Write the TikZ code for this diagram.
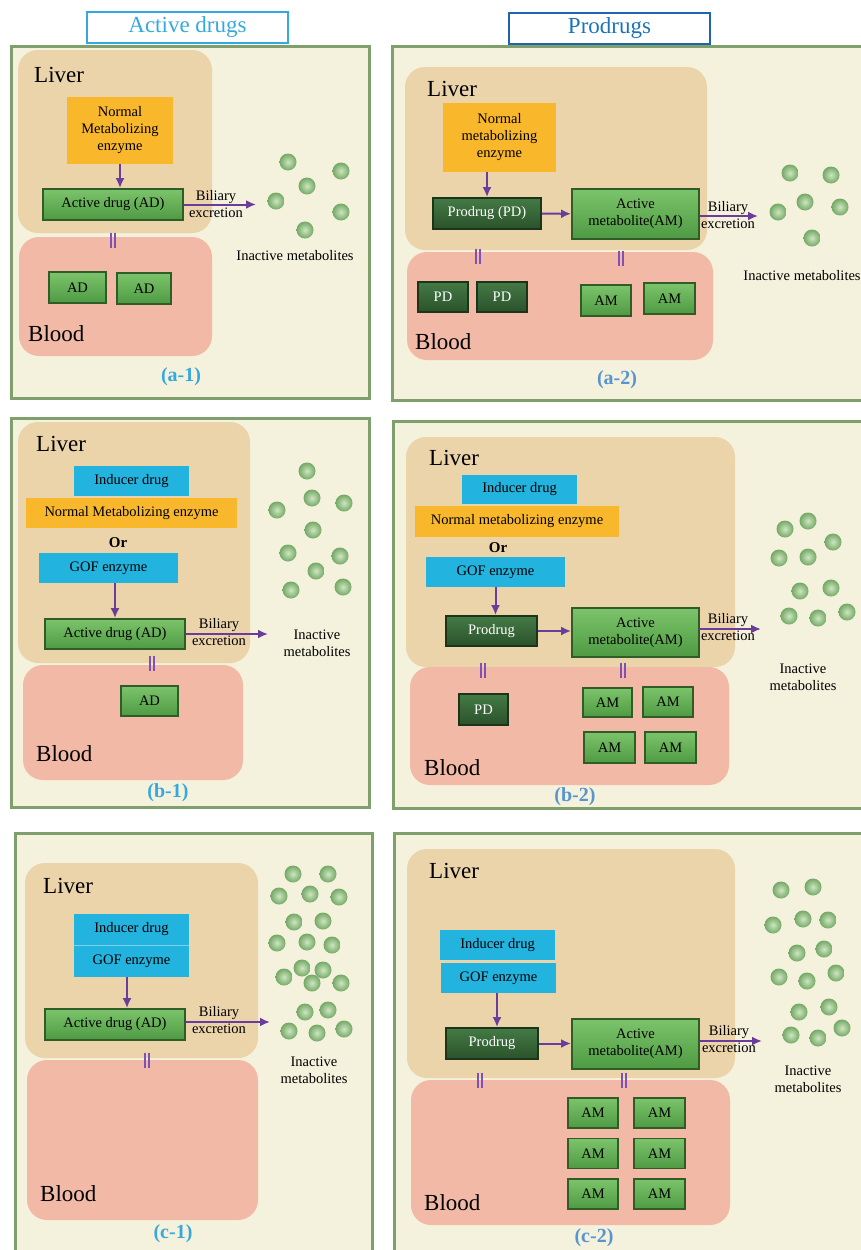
\documentclass[tikz,border=0pt]{standalone}
\usepackage{fontspec}
\setmainfont{Liberation Serif}
\usetikzlibrary{arrows.meta}
\definecolor{cream}{HTML}{F4F2DC}
\definecolor{framegreen}{HTML}{7FA06C}
\definecolor{livertan}{HTML}{EBD3AA}
\definecolor{bloodpink}{HTML}{F2B9A6}
\definecolor{enzorange}{HTML}{F9B82B}
\definecolor{cyanblue}{HTML}{22B3DE}
\definecolor{arrowpurple}{HTML}{6A3D9A}
\definecolor{barpurple}{HTML}{7E52B4}
\definecolor{ballin}{HTML}{CDE6C1}
\definecolor{ballout}{HTML}{74A865}
\definecolor{acttop}{HTML}{7CC46C}
\definecolor{actbot}{HTML}{4E9A42}
\definecolor{actrim}{HTML}{2F5C27}
\definecolor{protop}{HTML}{447A45}
\definecolor{probot}{HTML}{2B522B}
\definecolor{prorim}{HTML}{1B351B}
\definecolor{leftblue}{HTML}{36A8E0}
\definecolor{rightblue}{HTML}{1F64AE}
\definecolor{caseblue}{HTML}{5894CE}
\begin{document}
\begin{tikzpicture}[
    x={(1pt,0)}, y={(0,-1pt)},
    panel/.style={fill=cream, draw=framegreen, line width=3pt},
    liver/.style={fill=livertan, rounded corners=20pt},
    blood/.style={fill=bloodpink, rounded corners=20pt},
    organ/.style={font=\fontsize{23}{26}\selectfont, anchor=west, inner sep=0pt},
    smalltext/.style={font=\fontsize{14.5}{17}\selectfont, inner sep=0pt, align=center},
    enzbox/.style={smalltext, fill=enzorange},
    cyanbox/.style={smalltext, fill=cyanblue},
    actbox/.style={smalltext, top color=acttop, bottom color=actbot, draw=actrim, line width=1.8pt},
    probox/.style={smalltext, top color=protop, bottom color=probot, draw=prorim, line width=1.8pt, text=white},
    flow/.style={draw=arrowpurple, line width=2pt, -{Latex[length=10pt,width=9pt]}},
    eqsign/.style={minimum width=7pt, minimum height=15pt, inner sep=0pt,
      path picture={
        \draw[barpurple, line width=2pt] ([xshift=-2.2pt]path picture bounding box.north) -- ([xshift=-2.2pt]path picture bounding box.south);
        \draw[barpurple, line width=2pt] ([xshift=2.2pt]path picture bounding box.north) -- ([xshift=2.2pt]path picture bounding box.south);}},
    caseL/.style={text=leftblue, font=\fontsize{20}{22}\selectfont\bfseries},
    caseR/.style={text=caseblue, font=\fontsize{20}{22}\selectfont\bfseries},
    metab/.style={inner color=ballin, outer color=ballout},
    ]
\useasboundingbox (0,0) rectangle (860,1250);
% headers
\node[draw=leftblue, line width=1.3pt, text=leftblue, font=\fontsize{23}{26}\selectfont, minimum width=201pt, minimum height=31pt] (hdA) at (187.5,27.5) {Active drugs};
\node[draw=rightblue, line width=1.3pt, text=rightblue!90!cyan, font=\fontsize{23}{26}\selectfont, minimum width=201pt, minimum height=31pt] (hdP) at (609.5,28.5) {Prodrugs};
% panels
\draw[panel] (11,46) rectangle (369,398);
\draw[panel] (392,46) rectangle (880,400);
\draw[panel] (11,418) rectangle (369,807);
\draw[panel] (393,421) rectangle (880,808);
\draw[panel] (15,833) rectangle (372,1270);
\draw[panel] (394,833) rectangle (880,1270);
\fill[liver] (18,50) rectangle (212,233);
\fill[blood] (19,237) rectangle (212,356);
\fill[liver] (405,67) rectangle (707,250);
\fill[blood] (407,252) rectangle (713,360);
\fill[liver] (18,422) rectangle (250,663);
\fill[blood] (23,665) rectangle (243,780);
\fill[liver] (406,437) rectangle (735,667);
\fill[blood] (410,667) rectangle (729,785);
\fill[liver] (25,863) rectangle (258,1058);
\fill[blood] (27,1060) rectangle (258,1220);
\fill[liver] (407,849) rectangle (735,1078);
\fill[blood] (411,1080) rectangle (730,1225);

% (a-1)
\node[organ] (liv1) at (34,75) {Liver};
\node[organ] (blo1) at (28,334) {Blood};
\node[enzbox, minimum width=106pt, minimum height=67pt] (enz1) at (120,130.5) {Normal\\Metabolizing\\enzyme};
\node[actbox, minimum width=140pt, minimum height=31pt] (ad1) at (113,204.5) {Active drug (AD)};
\node[actbox, minimum width=57pt, minimum height=31pt] (ad1a) at (77.5,287.5) {AD};
\node[actbox, minimum width=54pt, minimum height=31pt] (ad1b) at (144,288.5) {AD};
\node[eqsign] (eq1) at (113,240) {};
\node[smalltext] (bil1) at (216,204.5) {Biliary\\excretion};
\coordinate (out1) at (256,204.5);
\node[smalltext] (ina1) at (295,256) {Inactive metabolites};
\node[caseL] (lab1) at (181,377) {(a-1)};
\draw[flow] (enz1.south) -- (enz1.south |- ad1.north);
\draw[flow] (ad1) -- (out1);
\foreach \x/\y in {288/162, 341/171, 307/186, 276/201, 341/212, 305/230}
  \shade[metab] (\x,\y) circle (8.5pt);

% (a-2)
\node[organ] (liv2) at (427,89) {Liver};
\node[organ] (blo2) at (415,342) {Blood};
\node[enzbox, minimum width=113pt, minimum height=69pt] (enz2) at (499.5,137.5) {Normal\\metabolizing\\enzyme};
\node[probox, minimum width=108pt, minimum height=31pt] (pd2) at (487,213.5) {Prodrug (PD)};
\node[actbox, minimum width=127pt, minimum height=50pt] (am2) at (635.5,214) {Active\\metabolite(AM)};
\node[probox, minimum width=50pt, minimum height=30pt] (pd2a) at (443,297) {PD};
\node[probox, minimum width=50pt, minimum height=30pt] (pd2b) at (502,297) {PD};
\node[actbox, minimum width=50pt, minimum height=31pt] (am2a) at (606,300.5) {AM};
\node[actbox, minimum width=51pt, minimum height=31pt] (am2b) at (669.5,298.5) {AM};
\node[eqsign] (eq2a) at (478,256) {};
\node[eqsign] (eq2b) at (621,258) {};
\node[smalltext] (bil2) at (728,215) {Biliary\\excretion};
\coordinate (out2) at (758,216);
\node[smalltext] (ina2) at (802,276) {Inactive metabolites};
\node[caseR] (lab2) at (617,380) {(a-2)};
\draw[flow] (enz2.south -| pd2) -- (pd2);
\draw[flow] (pd2) -- (am2);
\draw[flow] (am2.east |- out2) -- (out2);
\foreach \x/\y in {790/173, 831/175, 805/202, 778/212, 840/207, 812/238}
  \shade[metab] (\x,\y) circle (8.5pt);

% (b-1)
\node[organ] (liv3) at (36,444) {Liver};
\node[organ] (blo3) at (36,754) {Blood};
\node[cyanbox, minimum width=115pt, minimum height=30pt] (ind3) at (131.5,481) {Inducer drug};
\node[enzbox, minimum width=211pt, minimum height=30pt] (enz3) at (131.5,513) {Normal Metabolizing enzyme};
\node[smalltext, font=\fontsize{15}{17}\selectfont\bfseries] (or3) at (118,543) {Or};
\node[cyanbox, minimum width=139pt, minimum height=30pt] (gof3) at (108.5,568) {GOF enzyme};
\node[actbox, minimum width=140pt, minimum height=30pt] (ad3) at (115,634) {Active drug (AD)};
\node[actbox, minimum width=57pt, minimum height=30pt] (ad3a) at (149.5,701) {AD};
\node[eqsign] (eq3) at (152,663) {};
\node[smalltext] (bil3) at (219,632) {Biliary\\excretion};
\coordinate (out3) at (268,634);
\node[smalltext] (ina3) at (317,643) {Inactive\\metabolites};
\node[caseL] (lab3) at (168,793) {(b-1)};
\draw[flow] (ad3.north |- gof3.south) -- (ad3.north);
\draw[flow] (ad3) -- (out3);
\foreach \x/\y in {307/471, 312/498, 344/503, 277/510, 313/530, 288/553, 340/556, 316/571, 291/590, 343/587}
  \shade[metab] (\x,\y) circle (8.5pt);

% (b-2)
\node[organ] (liv4) at (429,458) {Liver};
\node[organ] (blo4) at (424,768) {Blood};
\node[cyanbox, minimum width=115pt, minimum height=29pt] (ind4) at (519.5,489.5) {Inducer drug};
\node[enzbox, minimum width=204pt, minimum height=31pt] (enz4) at (517,521.5) {Normal metabolizing enzyme};
\node[smalltext, font=\fontsize{15}{17}\selectfont\bfseries] (or4) at (498,548) {Or};
\node[cyanbox, minimum width=139pt, minimum height=30pt] (gof4) at (495.5,572) {GOF enzyme};
\node[probox, minimum width=91pt, minimum height=30pt] (pd4) at (491.5,631) {Prodrug};
\node[actbox, minimum width=127pt, minimum height=49pt] (am4) at (635.5,632.5) {Active\\metabolite(AM)};
\node[probox, minimum width=49pt, minimum height=31pt] (pd4a) at (483.5,709.5) {PD};
\node[actbox, minimum width=49pt, minimum height=29pt] (am4a) at (607.5,702.5) {AM};
\node[actbox, minimum width=50pt, minimum height=30pt] (am4b) at (668,702) {AM};
\node[actbox, minimum width=51pt, minimum height=31pt] (am4c) at (609.5,747.5) {AM};
\node[actbox, minimum width=51pt, minimum height=31pt] (am4d) at (670.5,747.5) {AM};
\node[eqsign] (eq4a) at (483,670) {};
\node[eqsign] (eq4b) at (623,670) {};
\node[smalltext] (bil4) at (728,627) {Biliary\\excretion};
\coordinate (out4) at (761,629);
\node[smalltext] (ina4) at (803,677) {Inactive\\metabolites};
\node[caseR] (lab4) at (575,797) {(b-2)};
\draw[flow] (gof4.south) -- (gof4.south |- pd4.north);
\draw[flow] (pd4) -- (pd4 -| am4.west);
\draw[flow] (am4.east |- out4) -- (out4);
\foreach \x/\y in {785/529, 808/521, 833/542, 779/558, 808/557, 800/591, 831/588, 789/616, 818/618, 847/612}
  \shade[metab] (\x,\y) circle (8.5pt);

% (c-1)
\node[organ] (liv5) at (43,886) {Liver};
\node[organ] (blo5) at (40,1194) {Blood};
\node[cyanbox, minimum width=115pt, minimum height=31pt] (ind5) at (131.5,929.5) {Inducer drug};
\node[cyanbox, minimum width=115pt, minimum height=31pt] (gof5) at (131.5,961.5) {GOF enzyme};
\node[actbox, minimum width=140pt, minimum height=31pt] (ad5) at (115,1024.5) {Active drug (AD)};
\node[eqsign] (eq5) at (147,1060) {};
\node[smalltext] (bil5) at (219,1020) {Biliary\\excretion};
\coordinate (out5) at (270,1022);
\node[smalltext] (ina5) at (314,1070) {Inactive\\metabolites};
\node[caseL] (lab5) at (173,1234) {(c-1)};
\draw[line width=1pt, draw=cyanblue!60!white] (ind5.south west) -- (ind5.south east);
\draw[flow] (gof5.south -| 127,0) -- (ad5.north -| 127,0);
\draw[flow] (ad5.east |- out5) -- (out5);
\foreach \x/\y in {293/874, 328/874, 279/896, 310/894, 339/897, 294/922, 323/921, 277/943, 307/942, 332/945, 302/968, 323/970, 284/977, 312/983, 341/983, 305/1012, 328/1010, 289/1031, 317/1033, 344/1029}
  \shade[metab] (\x,\y) circle (8.5pt);

% (c-2)
\node[organ] (liv6) at (429,871) {Liver};
\node[organ] (blo6) at (424,1203) {Blood};
\node[cyanbox, minimum width=115pt, minimum height=30pt] (ind6) at (497.5,945) {Inducer drug};
\node[cyanbox, minimum width=115pt, minimum height=30pt] (gof6) at (498.5,978) {GOF enzyme};
\node[probox, minimum width=92pt, minimum height=31pt] (pd6) at (492,1043.5) {Prodrug};
\node[actbox, minimum width=127pt, minimum height=50pt] (am6) at (635.5,1044) {Active\\metabolite(AM)};
\foreach \r/\y in {1/1113, 2/1153.5, 3/1194} {
  \node[actbox, minimum width=50pt, minimum height=30pt] (am6a\r) at (593,\y) {AM};
  \node[actbox, minimum width=51pt, minimum height=30pt] (am6b\r) at (659.5,\y) {AM};
}
\node[eqsign] (eq6a) at (480,1080) {};
\node[eqsign] (eq6b) at (624,1080) {};
\node[smalltext] (bil6) at (729,1039) {Biliary\\excretion};
\coordinate (out6) at (762,1041);
\node[smalltext] (ina6) at (808,1079) {Inactive\\metabolites};
\node[caseR] (lab6) at (594,1238) {(c-2)};
\draw[flow] (gof6.south -| 497,0) -- (pd6.north -| 497,0);
\draw[flow] (pd6) -- (pd6 -| am6.west);
\draw[flow] (am6.east |- out6) -- (out6);
\foreach \x/\y in {781/890, 813/887, 773/925, 803/919, 828/920, 797/953, 824/949, 779/977, 807/981, 836/973, 799/1012, 829/1007, 791/1035, 818/1038, 842/1028}
  \shade[metab] (\x,\y) circle (8.5pt);
\end{tikzpicture}
\end{document}
